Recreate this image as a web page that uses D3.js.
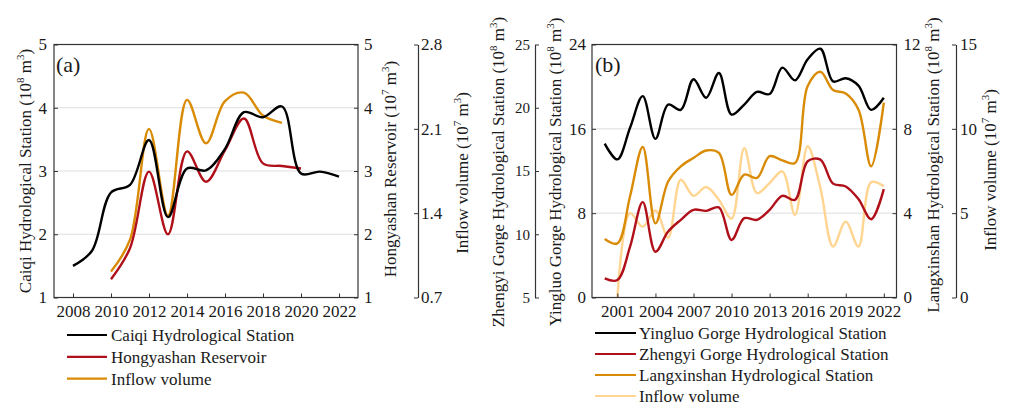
<!DOCTYPE html>
<html>
<head>
<meta charset="utf-8">
<script src="https://cdn.jsdelivr.net/npm/d3@7/dist/d3.min.js"></script>
<style>
body{margin:0;background:#fff;}
text{font-family:"Liberation Serif","Times New Roman",serif;fill:#1a1a1a;}
</style>
</head>
<body>
<div id="chart"></div>
<script>
// ---- panel (a) data ----
let caiqiYears = [2008,2009,2010,2011,2012,2013,2014,2015,2016,2017,2018,2019,2020,2021,2022];
let caiqiValues = [1.50,1.74,2.66,2.78,3.49,2.27,3.04,3.01,3.35,3.93,3.85,4.02,2.96,2.99,2.91];
let hongYears = [2010,2011,2012,2013,2014,2015,2016,2017,2018,2019,2020];
let hongValues = [1.29,1.78,2.99,2.00,3.31,2.83,3.33,3.83,3.12,3.08,3.04];
let inflowAYears = [2010,2011,2012,2013,2014,2015,2016,2017,2018,2019];
let inflowAValues = [0.915,1.18,2.10,1.38,2.34,1.98,2.33,2.40,2.21,2.15];
let ticksXA = [2008,2010,2012,2014,2016,2018,2020,2022];
let ticksCaiqi = [1,2,3,4,5];
let ticksInflowA = [0.7,1.4,2.1,2.8];

// ---- panel (b) data ----
let yearsB = [2000,2001,2002,2003,2004,2005,2006,2007,2008,2009,2010,2011,2012,2013,2014,2015,2016,2017,2018,2019,2020,2021,2022];
let yingluoValues = [14.6,13.1,16.1,19.1,15.05,18.3,17.8,20.7,18.95,21.3,17.35,18.3,19.5,19.3,21.8,20.6,22.6,23.6,20.5,20.8,20.1,17.8,18.95];
let zhengyiValues = [6.51,6.38,9.02,12.54,8.62,10.21,11.14,11.93,11.85,12.12,9.55,11.27,11.14,11.93,13.04,12.72,15.77,15.9,14.0,13.78,12.78,11.19,13.57];
let langValues = [2.78,2.57,4.8,7.14,3.52,5.5,6.22,6.62,6.97,6.86,4.87,5.83,5.67,6.7,6.5,6.38,10.03,10.71,9.84,9.68,8.92,6.22,9.24];
let inflowBYears = [2001,2002,2003,2004,2005,2006,2007,2008,2009,2010,2011,2012,2013,2014,2015,2016,2017,2018,2019,2020,2021,2022];
let inflowBValues = [0.0,5.0,4.2,5.16,3.55,6.98,6.03,6.55,5.79,4.68,8.85,6.19,6.79,7.48,4.9,8.97,6.5,3.02,4.5,3.02,6.83,6.59];
let ticksXB = [2001,2004,2007,2010,2013,2016,2019,2022];
let ticksYingluo = [0,8,16,24];
let ticksZhengyi = [5,10,15,20,25];
let ticksLang = [0,4,8,12];
let ticksInflowB = [0,5,10,15];

let cBlack = '#000000', cRed = '#b0101a', cOrange = '#d98b06', cLight = '#ffd591';
let serif = '"Liberation Serif","Times New Roman",serif';

let width = 1009, height = 407;
let plotTop = 44.5, plotBottom = 297.5;

let svg = d3.select('#chart').append('svg')
  .attr('width', width).attr('height', height)
  .attr('font-family', serif)
  .style('background', '#fff');

function zip(xs, ys){ return xs.map((x,i)=>[x, ys[i]]); }

// rotated title with superscripts: parts = [[text, isSup], ...]
function titleText(g, x, y, rot, parts){
  let t = g.append('text')
    .attr('transform', 'translate('+x+','+y+') rotate('+rot+')')
    .attr('text-anchor','middle')
    .attr('font-family', serif)
    .attr('font-size', 17);
  let shifted = false;
  parts.forEach(function(p, i){
    let s = t.append('tspan').text(p[0]);
    if(i==0) s.attr('dy','0.35em');
    if(p[1]){ s.attr('font-size', 11).attr('dy', -7); shifted = true; }
    else if(shifted){ s.attr('dy', 7); shifted = false; }
  });
  return t;
}

function styleAxis(g, size){
  g.attr('font-family', serif);
  g.selectAll('text').attr('font-size', size || 17).attr('fill','#1a1a1a');
  g.selectAll('line').attr('stroke','#333');
  g.select('.domain').attr('stroke','#333');
}

let line = d3.line().curve(d3.curveCatmullRom.alpha(0.5));

// ================= panel (a) =================
let xA = d3.scaleLinear().domain([2007,2023]).range([54,358]);
let yA = d3.scaleLinear().domain([1,5]).range([plotBottom,plotTop]);
let yHong = d3.scaleLinear().domain([1,5]).range([plotBottom,plotTop]);
let yInA = d3.scaleLinear().domain([0.7,2.8]).range([plotBottom,plotTop]);

let gA = svg.append('g');

gA.selectAll('.gridA').data([2,3,4]).enter().append('line')
  .attr('x1', xA.range()[0]).attr('x2', xA.range()[1])
  .attr('y1', d=>yA(d)).attr('y2', d=>yA(d))
  .attr('stroke','#dedede').attr('stroke-width',1);

let seriesA = [
  {pts: zip(caiqiYears, caiqiValues), y: yA, color: cBlack},
  {pts: zip(hongYears, hongValues), y: yHong, color: cRed},
  {pts: zip(inflowAYears, inflowAValues), y: yInA, color: cOrange}
];
// orange first so black & red sit on top as in the reference
[seriesA[2], seriesA[1], seriesA[0]].forEach(function(s){
  gA.append('path')
    .attr('d', line(s.pts.map(p=>[xA(p[0]), s.y(p[1])])))
    .attr('fill','none').attr('stroke', s.color).attr('stroke-width', 2.4)
    .attr('stroke-linejoin','round');
});

gA.append('rect')
  .attr('x', xA.range()[0]).attr('y', plotTop)
  .attr('width', xA.range()[1]-xA.range()[0]).attr('height', plotBottom-plotTop)
  .attr('fill','none').attr('stroke','#333').attr('stroke-width',1.2);

let axA = gA.append('g').attr('transform','translate(0,'+plotBottom+')')
  .call(d3.axisBottom(xA).tickValues(ticksXA).tickFormat(d3.format('d'))
    .tickSizeInner(-4).tickSizeOuter(0).tickPadding(7));
axA.select('.domain').remove(); styleAxis(axA);

let ayA = gA.append('g').attr('transform','translate('+xA.range()[0]+',0)')
  .call(d3.axisLeft(yA).tickValues(ticksCaiqi).tickFormat(d3.format('d'))
    .tickSizeInner(-4).tickSizeOuter(0).tickPadding(7));
ayA.select('.domain').remove(); styleAxis(ayA);

let ayH = gA.append('g').attr('transform','translate('+xA.range()[1]+',0)')
  .call(d3.axisRight(yHong).tickValues(ticksCaiqi).tickFormat(d3.format('d'))
    .tickSizeInner(-4).tickSizeOuter(0).tickPadding(6));
ayH.select('.domain').remove(); styleAxis(ayH);

let ayIA = gA.append('g').attr('transform','translate(418,0)')
  .call(d3.axisRight(yInA).tickValues(ticksInflowA).tickFormat(d3.format('.1f'))
    .tickSizeInner(-4).tickSizeOuter(0).tickPadding(3));
styleAxis(ayIA);
ayIA.select('.domain').attr('stroke-width',1.2);

gA.append('text').attr('x',56).attr('y',72).attr('font-size',22).text('(a)');

titleText(gA, 25, 171, -90, [['Caiqi Hydrological Station (10',0],['8',1],[' m',0],['3',1],[')',0]]);
titleText(gA, 390, 169, -90, [['Hongyashan Reservoir (10',0],['7',1],[' m',0],['3',1],[')',0]]);
titleText(gA, 462, 173, -90, [['Inflow volume (10',0],['7',1],[' m',0],['3',1],[')',0]]);

let legA = [
  {name:'Caiqi Hydrological Station', color:cBlack},
  {name:'Hongyashan Reservoir', color:cRed},
  {name:'Inflow volume', color:cOrange}
];
legA.forEach(function(d,i){
  let yy = 335 + i*21.8;
  gA.append('line').attr('x1',67).attr('x2',107).attr('y1',yy).attr('y2',yy)
    .attr('stroke',d.color).attr('stroke-width',2.2);
  gA.append('text').attr('x',111).attr('y',yy).attr('dy','0.35em')
    .attr('font-size',17).text(d.name);
});

// ================= panel (b) =================
let xB = d3.scaleLinear().domain([1999,2023]).range([592,896.5]);
let yYing = d3.scaleLinear().domain([0,24]).range([plotBottom,plotTop]);
let yZheng = d3.scaleLinear().domain([5,25]).range([plotBottom,plotTop]);
let yLang = d3.scaleLinear().domain([0,12]).range([plotBottom,plotTop]);
let yInB = d3.scaleLinear().domain([0,15]).range([plotBottom,plotTop]);

let gB = svg.append('g');

gB.selectAll('.gridB').data([8,16]).enter().append('line')
  .attr('x1', xB.range()[0]).attr('x2', xB.range()[1])
  .attr('y1', d=>yYing(d)).attr('y2', d=>yYing(d))
  .attr('stroke','#dedede').attr('stroke-width',1);

let seriesB = [
  {pts: zip(inflowBYears, inflowBValues), y: yInB, color: cLight},
  {pts: zip(yearsB, langValues), y: yLang, color: cOrange},
  {pts: zip(yearsB, zhengyiValues), y: yZheng, color: cRed},
  {pts: zip(yearsB, yingluoValues), y: yYing, color: cBlack}
];
svg.append('clipPath').attr('id','clipB').append('rect')
  .attr('x', xB.range()[0]).attr('y', plotTop)
  .attr('width', xB.range()[1]-xB.range()[0]).attr('height', plotBottom-plotTop);
seriesB.forEach(function(s){
  gB.append('path')
    .attr('clip-path','url(#clipB)')
    .attr('d', line(s.pts.map(p=>[xB(p[0]), s.y(p[1])])))
    .attr('fill','none').attr('stroke', s.color).attr('stroke-width', 2.4)
    .attr('stroke-linejoin','round');
});

gB.append('rect')
  .attr('x', xB.range()[0]).attr('y', plotTop)
  .attr('width', xB.range()[1]-xB.range()[0]).attr('height', plotBottom-plotTop)
  .attr('fill','none').attr('stroke','#333').attr('stroke-width',1.2);

let axB = gB.append('g').attr('transform','translate(0,'+plotBottom+')')
  .call(d3.axisBottom(xB).tickValues(ticksXB).tickFormat(d3.format('d'))
    .tickSizeInner(-4).tickSizeOuter(0).tickPadding(7));
axB.select('.domain').remove(); styleAxis(axB);

let ayY = gB.append('g').attr('transform','translate('+xB.range()[0]+',0)')
  .call(d3.axisLeft(yYing).tickValues(ticksYingluo).tickFormat(d3.format('d'))
    .tickSizeInner(-4).tickSizeOuter(0).tickPadding(6));
ayY.select('.domain').remove(); styleAxis(ayY);

let ayZ = gB.append('g').attr('transform','translate(535,0)')
  .call(d3.axisLeft(yZheng).tickValues(ticksZhengyi).tickFormat(d3.format('d'))
    .tickSizeInner(-4).tickSizeOuter(0).tickPadding(5));
styleAxis(ayZ, 15);
ayZ.select('.domain').attr('stroke-width',1.2);

let ayL = gB.append('g').attr('transform','translate('+xB.range()[1]+',0)')
  .call(d3.axisRight(yLang).tickValues(ticksLang).tickFormat(d3.format('d'))
    .tickSizeInner(-4).tickSizeOuter(0).tickPadding(7));
ayL.select('.domain').remove(); styleAxis(ayL);

let ayIB = gB.append('g').attr('transform','translate(956,0)')
  .call(d3.axisRight(yInB).tickValues(ticksInflowB).tickFormat(d3.format('d'))
    .tickSizeInner(-4).tickSizeOuter(0).tickPadding(4));
styleAxis(ayIB);
ayIB.select('.domain').attr('stroke-width',1.2);

gB.append('text').attr('x',595).attr('y',72).attr('font-size',22).text('(b)');

titleText(gB, 498, 172, -90, [['Zhengyi Gorge Hydrological Station (10',0],['8',1],[' m',0],['3',1],[')',0]]);
titleText(gB, 555, 172, -90, [['Yingluo Gorge Hydrological Station (10',0],['8',1],[' m',0],['3',1],[')',0]]);
titleText(gB, 933, 165, -90, [['Langxinshan Hydrological Station (10',0],['8',1],[' m',0],['3',1],[')',0]]);
titleText(gB, 990, 170, -90, [['Inflow volume (10',0],['7',1],[' m',0],['3',1],[')',0]]);

let legB = [
  {name:'Yingluo Gorge Hydrological Station', color:cBlack},
  {name:'Zhengyi Gorge Hydrological Station', color:cRed},
  {name:'Langxinshan Hydrological Station', color:cOrange},
  {name:'Inflow volume', color:cLight}
];
legB.forEach(function(d,i){
  let yy = 333 + i*21;
  gB.append('line').attr('x1',595).attr('x2',636).attr('y1',yy).attr('y2',yy)
    .attr('stroke',d.color).attr('stroke-width',2.2);
  gB.append('text').attr('x',639).attr('y',yy).attr('dy','0.33em')
    .attr('font-size',17).text(d.name);
});
</script>
</body>
</html>
